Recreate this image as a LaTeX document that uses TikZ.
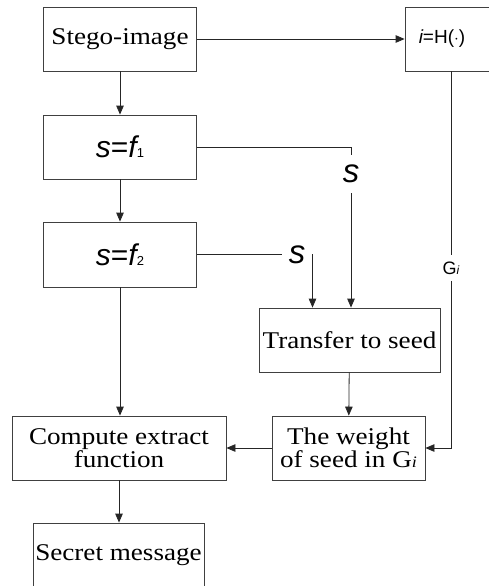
\documentclass[tikz,border=0pt]{standalone}
\usepackage{fontspec}
\setmainfont{Liberation Serif}[FakeStretch=1.13]
\newfontfamily\arialf{Liberation Sans}
\usetikzlibrary{arrows.meta}
\newcommand{\sit}[1]{{\itshape #1}}

\begin{document}
\begin{tikzpicture}[x=1pt,y=-1pt,
    box/.style={draw=black!75, line width=0.8pt, inner sep=0pt, align=center,
      font=\fontsize{24}{22}\selectfont},
    lab/.style={inner sep=0pt, font=\arialf\fontsize{33}{33}\selectfont},
    >={Triangle[length=9pt,width=7.5pt]}, line width=0.8pt, draw=black!85]
  \useasboundingbox (0,0) rectangle (488,586);
  % boxes
  \node[box, minimum width=104pt, minimum height=64pt, font=\arialf\fontsize{19}{19}\selectfont] (ihash) at (457,39) {\hspace*{-30pt}\sit{i}=H($\cdot$)};
  \node[box, minimum width=153pt, minimum height=64pt] (stego) at (120,39) {Stego-image};
  \node[box, minimum width=153pt, minimum height=64pt, font=\arialf\fontsize{30}{30}\selectfont] (f1) at (120,147) {\sit{s}=\sit{f}{\fontsize{13}{13}\selectfont 1}};
  \node[box, minimum width=153pt, minimum height=65pt, font=\arialf\fontsize{30}{30}\selectfont] (f2) at (120,254.5) {\sit{s}=\sit{f}{\fontsize{13}{13}\selectfont 2}};
  \node[box, minimum width=181pt, minimum height=64pt] (transfer) at (349.5,340) {Transfer to seed};
  \node[box, minimum width=214pt, minimum height=64pt] (compute) at (119,448) {Compute extract\\function};
  \node[box, minimum width=153pt, minimum height=64pt] (weight) at (348.5,448) {The weight\\of seed in G{\fontsize{16}{16}\selectfont\itshape i}};
  \node[box, minimum width=171pt, minimum height=64pt] (secret) at (118.5,555) {Secret message};
  % labels on the lines
  \node[lab, minimum height=38pt] (s1) at (351,174) {\sit{s}};
  \node[lab, minimum height=16pt, minimum width=30pt] (s2) at (297,255) {\sit{s}};
  \node[lab, minimum height=25pt, font=\arialf\fontsize{18}{18}\selectfont] (gi) at (451,268) {G{\fontsize{12}{12}\selectfont\itshape i}};
  % connectors
  \draw[->] (stego) -- (stego -| ihash.west);
  \draw[->] (stego) -- (f1);
  \draw[->] (f1) -- (f2);
  \draw (f1.east) -| (s1.north);
  \draw[->] (s1.south) -- (s1.south |- transfer.north);
  \draw (f2.east) -- (f2.east -| s2.west);
  \draw[->] (f2.east -| s2.east) -| ([xshift=-37pt]transfer.north);
  \draw[->] (f2.south) -- (f2.south |- compute.north);
  \draw[->] (transfer) -- (weight);
  \draw (ihash.south -| gi) -- (gi.north);
  \draw[->] (gi.south) |- (weight.east);
  \draw[->] (weight) -- (compute);
  \draw[->] (compute) -- (compute.south |- secret.north);
\end{tikzpicture}
\end{document}
